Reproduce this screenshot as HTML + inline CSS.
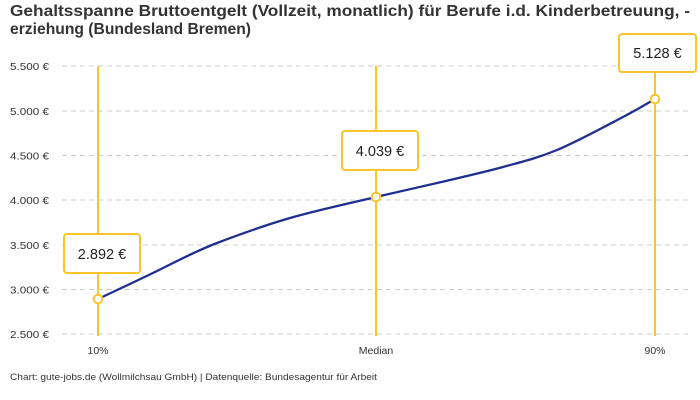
<!DOCTYPE html>
<html><head><meta charset="utf-8"><style>
html,body{margin:0;padding:0;background:#fff;}
svg{display:block;font-family:"Liberation Sans",sans-serif;}
</style></head><body>
<svg width="700" height="400" viewBox="0 0 700 400" xmlns="http://www.w3.org/2000/svg">
<rect width="700" height="400" fill="#fff"/>
<text x="10" y="16" font-size="15.5" font-weight="bold" fill="#333" textLength="680" lengthAdjust="spacingAndGlyphs">Gehaltsspanne Bruttoentgelt (Vollzeit, monatlich) für Berufe i.d. Kinderbetreuung, -</text>
<text x="10" y="34" font-size="15.5" font-weight="bold" fill="#333" textLength="241" lengthAdjust="spacingAndGlyphs">erziehung (Bundesland Bremen)</text>
<g stroke="#ccc" stroke-width="1" stroke-dasharray="5,4">
<line x1="62" y1="66" x2="690" y2="66"/>
<line x1="62" y1="111" x2="690" y2="111"/>
<line x1="62" y1="155.5" x2="690" y2="155.5"/>
<line x1="62" y1="200" x2="690" y2="200"/>
<line x1="62" y1="245" x2="690" y2="245"/>
<line x1="62" y1="289.5" x2="690" y2="289.5"/>
<line x1="62" y1="334" x2="690" y2="334"/>
</g>
<g font-size="10.5" fill="#333">
<text x="10" y="70" textLength="39" lengthAdjust="spacingAndGlyphs">5.500 €</text>
<text x="10" y="115" textLength="39" lengthAdjust="spacingAndGlyphs">5.000 €</text>
<text x="10" y="159.5" textLength="39" lengthAdjust="spacingAndGlyphs">4.500 €</text>
<text x="10" y="204" textLength="39" lengthAdjust="spacingAndGlyphs">4.000 €</text>
<text x="10" y="249" textLength="39" lengthAdjust="spacingAndGlyphs">3.500 €</text>
<text x="10" y="293.5" textLength="39" lengthAdjust="spacingAndGlyphs">3.000 €</text>
<text x="10" y="338" textLength="39" lengthAdjust="spacingAndGlyphs">2.500 €</text>
</g>
<g font-size="10.5" fill="#333" text-anchor="middle">
<text x="98" y="354">10%</text>
<text x="376" y="354">Median</text>
<text x="655" y="354">90%</text>
</g>
<g stroke="#FAC52A" stroke-width="2">
<line x1="98" y1="66" x2="98" y2="336"/>
<line x1="376" y1="66" x2="376" y2="336"/>
<line x1="655" y1="66" x2="655" y2="336"/>
</g>
<path d="M98,299 C107.8,294.3 137.2,280.7 157,271 C176.8,261.3 194.8,251.5 217,243 C239.2,234.5 263.5,225.7 290,218 C316.5,210.3 351.5,202.8 376,197 C400.5,191.2 415.8,188 437,183 C458.2,178 483,172.5 503,167 C523,161.5 537,158.3 557,150 C577,141.7 606.7,125.5 623,117 C639.3,108.5 649.7,102 655,99" fill="none" stroke="#1E2F8F" stroke-width="2.3"/>
<g fill="#fff" stroke="#FAC52A" stroke-width="2">
<rect x="64" y="234" width="76" height="39" rx="3"/>
<rect x="342" y="131" width="76" height="39" rx="3"/>
<rect x="619" y="34" width="77" height="38" rx="3"/>
<circle cx="98" cy="299" r="4.3"/>
<circle cx="376" cy="197" r="4.3"/>
<circle cx="655" cy="99" r="4.3"/>
</g>
<g font-size="14.5" fill="#222" text-anchor="middle">
<text x="102" y="259">2.892 €</text>
<text x="380" y="156">4.039 €</text>
<text x="657.5" y="58">5.128 €</text>
</g>
<text x="10" y="380" font-size="9.5" fill="#333" textLength="367" lengthAdjust="spacingAndGlyphs">Chart: gute-jobs.de (Wollmilchsau GmbH) | Datenquelle: Bundesagentur für Arbeit</text>
</svg>
</body></html>
